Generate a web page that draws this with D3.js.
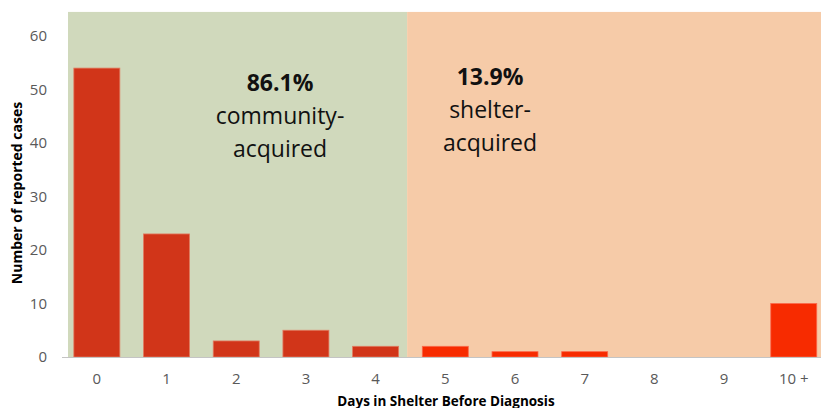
<!DOCTYPE html>
<html>
<head>
<meta charset="utf-8">
<script src="https://cdn.jsdelivr.net/npm/d3@7"></script>
<style>
  body { margin: 0; background: #fff; }
  svg { display: block; font-family: "Open Sans", "Noto Sans", sans-serif; }
  .tick text { fill: #595959; font-size: 15px; font-family: "Open Sans", "Noto Sans", sans-serif; }
</style>
</head>
<body>
<div id="chart"></div>
<script>
// data
var categories = ["0", "1", "2", "3", "4", "5", "6", "7", "8", "9", "10 +"];
var cases = [54, 23, 3, 5, 2, 2, 1, 1, 0, 0, 10];
var yTicks = [0, 10, 20, 30, 40, 50, 60];
var communityCats = ["0", "1", "2", "3", "4"];
var shares = ["86.1%", "13.9%"];
var shareLabels = [["community-", "acquired"], ["shelter-", "acquired"]];

var width = 821, height = 408;

var svg = d3.select("#chart").append("svg")
	.attr("width", width)
	.attr("height", height);

var x = d3.scaleBand()
	.domain(categories)
	.range([62, 828.6])
	.paddingInner(0.34)
	.paddingOuter(0.17);

var y = d3.scaleLinear()
	.domain([0, 60])
	.range([357, 36]);

// background zones
var split = x("4") + x.bandwidth() + 8.5;
var bgTop = y(64.5);
svg.append("rect")
	.attr("x", 68).attr("y", bgTop)
	.attr("width", split - 68).attr("height", y(0) - bgTop)
	.attr("fill", "#d0d9bc");
svg.append("rect")
	.attr("x", split).attr("y", bgTop)
	.attr("width", width - split).attr("height", y(0) - bgTop)
	.attr("fill", "#f6cba8");

// bars
svg.selectAll(".bar")
	.data(cases)
  .enter().append("rect")
	.attr("class", "bar")
	.attr("x", function(d, i) { return x(categories[i]); })
	.attr("width", x.bandwidth())
	.attr("y", function(d) { return y(d); })
	.attr("height", function(d) { return y(0) - y(d); })
	.attr("fill", function(d, i) { return communityCats.indexOf(categories[i]) >= 0 ? "#d13519" : "#f72b00"; })
	.attr("stroke", function(d, i) { return communityCats.indexOf(categories[i]) >= 0 ? "#e27a5f" : "#fb6a4c"; })
	.attr("stroke-width", function(d) { return d > 0 ? 0.8 : 0; });

// axes
var xAxis = d3.axisBottom(x).tickSize(0).tickPadding(16);
var gx = svg.append("g")
	.attr("transform", "translate(0," + y(0) + ")")
	.call(xAxis);
gx.select(".domain").attr("stroke", "#c4c4c4").attr("d", "M62,0.5H" + width);

var yAxis = d3.axisLeft(y).tickValues(yTicks).tickSize(0).tickPadding(15);
var gy = svg.append("g")
	.attr("transform", "translate(62,0)")
	.call(yAxis);
gy.select(".domain").remove();

// axis titles
svg.append("text")
	.attr("transform", "translate(22,193) rotate(-90)")
	.attr("text-anchor", "middle")
	.style("font-size", "14px")
	.style("font-weight", "bold")
	.attr("fill", "#000")
	.text("Number of reported cases");

svg.append("text")
	.attr("x", 446).attr("y", 406)
	.attr("text-anchor", "middle")
	.style("font-size", "13.5px")
	.style("font-weight", "bold")
	.attr("fill", "#000")
	.text("Days in Shelter Before Diagnosis");

// zone annotations
var annX = [280, 490];
var annY = [91, 85];
shares.forEach(function(s, i) {
	var t = svg.append("text")
		.attr("text-anchor", "middle")
		.attr("fill", "#111")
		.style("font-size", "23px");
	t.append("tspan")
		.attr("x", annX[i]).attr("y", annY[i])
		.style("font-weight", "bold")
		.text(s);
	shareLabels[i].forEach(function(l, j) {
		t.append("tspan")
			.attr("x", annX[i]).attr("y", annY[i] + 33 * (j + 1))
			.text(l);
	});
});
</script>
</body>
</html>
